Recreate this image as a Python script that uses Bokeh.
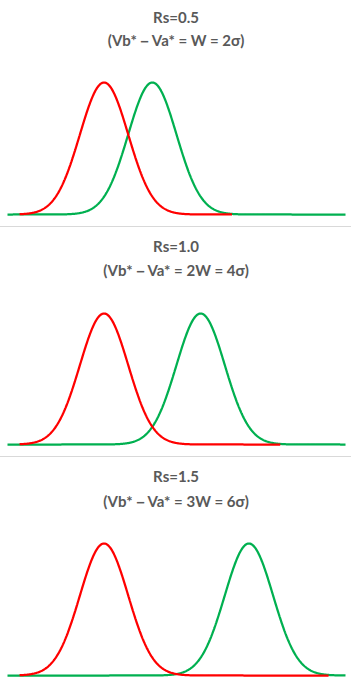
import numpy as np
from bokeh.plotting import figure
from bokeh.models import Range1d, Label, Div, Column
from bokeh.embed import file_html
from bokeh.resources import INLINE

# ---- data ----
rs_values = [0.5, 1.0, 1.5]
title_line1 = ["Rs=0.5", "Rs=1.0", "Rs=1.5"]
title_line2 = ["(Vb*－Va* = W = 2σ)", "(Vb*－Va* = 2W = 4σ)", "(Vb*－Va* = 3W = 6σ)"]
va_center = 0.0                 # peak a position (in sigma units)
vb_centers = [2.0, 4.0, 6.0]    # peak b position = Vb* - Va* = 4*Rs*sigma
sigma = 1.0
x_start, x_end = -4.0, 10.0
red_start = -3.5
red_tail_after_b = 3.3          # red curve stops this far past peak b

RED = "#FF0000"
GREEN = "#00B050"
SEP = "#D9D9D9"
TXT = "#595959"
FONT = "Lato"

# layout: (panel height, peak row, baseline row, title rows)
panels_geom = [
    (226, 82, 214, (16, 39)),
    (229, 86, 217, (18, 42)),
    (229, 86, 218, (18, 43)),
]
W = 351
X_LEFT_PX, X_RIGHT_PX = 7, 345


def gauss(x, mu, s):
    return np.exp(-0.5 * ((x - mu) / s) ** 2)


sx = (X_RIGHT_PX - X_LEFT_PX) / (x_end - x_start)
xr = (x_start - X_LEFT_PX / sx, x_end + (W - X_RIGHT_PX) / sx)

items = []
for i, (H, P, B, rows) in enumerate(panels_geom):
    sy = B - P
    yr = (-(H - B) / sy, 1 + P / sy)
    p = figure(width=W, height=H, output_backend="svg", toolbar_location=None,
               x_range=Range1d(*xr), y_range=Range1d(*yr),
               x_axis_location=None, y_axis_location=None, title=None,
               min_border=0)
    p.grid.visible = False
    p.outline_line_color = None
    p.background_fill_color = "white"
    p.border_fill_color = "white"

    xb = np.linspace(x_start, x_end, 600)
    yb = gauss(xb, vb_centers[i], sigma)
    xa = np.linspace(red_start, vb_centers[i] + red_tail_after_b, 500)
    ya = gauss(xa, va_center, sigma)

    p.line(xb, yb, line_color=GREEN, line_width=2.25)
    p.line(xa, ya, line_color=RED, line_width=2.25)

    for txt, row in zip((title_line1[i], title_line2[i]), rows):
        p.add_layout(Label(x=W / 2, y=H - row, x_units="screen", y_units="screen",
                           text=txt, text_align="center", text_baseline="middle",
                           text_font=FONT, text_font_size="15px", text_font_style="bold",
                           text_color=TXT))
    items.append(p)
    if i < len(panels_geom) - 1:
        items.append(Div(text="", width=W, height=1, margin=0,
                         styles={"background-color": SEP}))

layout = Column(children=items, spacing=0)
open("out.html", "w").write(file_html(layout, INLINE))
